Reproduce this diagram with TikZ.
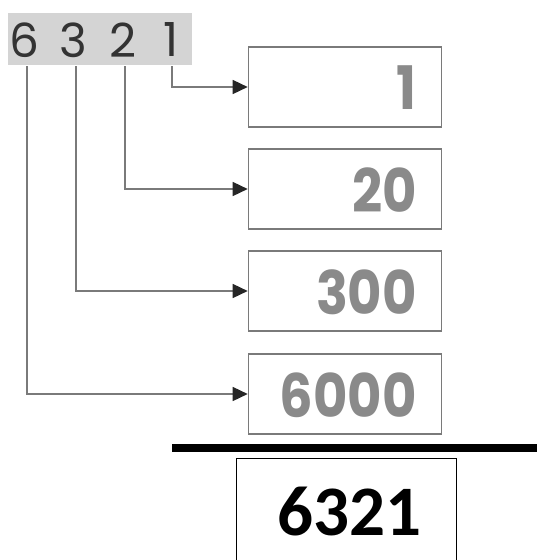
\documentclass[tikz,border=0pt]{standalone}
\usepackage{fontspec}
\setmainfont{Poppins}
\newfontfamily\resultfont{Carlito}
\usetikzlibrary{arrows.meta}
\definecolor{bandgray}{HTML}{D4D4D4}
\definecolor{digitink}{HTML}{333333}
\definecolor{placeink}{HTML}{8A8A8A}
\definecolor{wire}{HTML}{7A7A7A}
% narrowed bold figures for the place values
\newcommand{\placenum}[1]{\scalebox{0.88}[1]{\fontsize{60}{60}\selectfont\bfseries #1}}
\begin{document}
\begin{tikzpicture}[x=1pt,y=-1pt,
  digit/.style={inner sep=0pt, text=digitink, font=\fontsize{47}{47}\selectfont},
  placebox/.style={draw=wire, line width=1.6pt, minimum width=193pt, minimum height=80pt,
    inner sep=0pt},
  placeval/.style={anchor=east, inner sep=0pt, text=placeink},
  wirearrow/.style={draw=wire, line width=1.5pt,
    -{Triangle[length=15pt,width=14pt,color=black!85]}}
]
\useasboundingbox (0,0) rectangle (537,560);

% grey strip holding the number
\fill[bandgray] (8,13) rectangle (192,65);
\node[digit] (d6) at (24,40) {6};
\node[digit] (d3) at (73,40) {3};
\node[digit] (d2) at (123,40) {2};
\node[digit] (d1) at (171,40) {1};

% place-value boxes
\node[placebox] (b1) at (345,87) {};
\node[placebox] (b2) at (345,189) {};
\node[placebox] (b3) at (345,291) {};
\node[placebox] (b4) at (345,394) {};
\node[placeval] (v1) at (417,88) {\placenum{1}};
\node[placeval] (v2) at (417,190) {\placenum{20}};
\node[placeval] (v3) at (417,292) {\placenum{300}};
\node[placeval] (v4) at (417,395) {\placenum{6000}};

% connectors from each digit to its box
\coordinate (t1) at (172,66);
\coordinate (t2) at (125,66);
\coordinate (t3) at (76,66);
\coordinate (t4) at (27,66);
\draw[wirearrow] (t1) |- (b1.west);
\draw[wirearrow] (t2) |- (b2.west);
\draw[wirearrow] (t3) |- (b3.west);
\draw[wirearrow] (t4) |- (b4.west);

% sum rule and result
\coordinate (ruleL) at (172,448);
\coordinate (ruleR) at (537,448);
\draw[line width=8pt] (ruleL) -- (ruleR);
\draw[line width=1pt] (236,580) |- (456,458) -- (456,580);
\node[inner sep=0pt, font=\resultfont\fontsize{71}{71}\selectfont\bfseries] (sum) at (349,512) {6321};
\end{tikzpicture}
\end{document}
